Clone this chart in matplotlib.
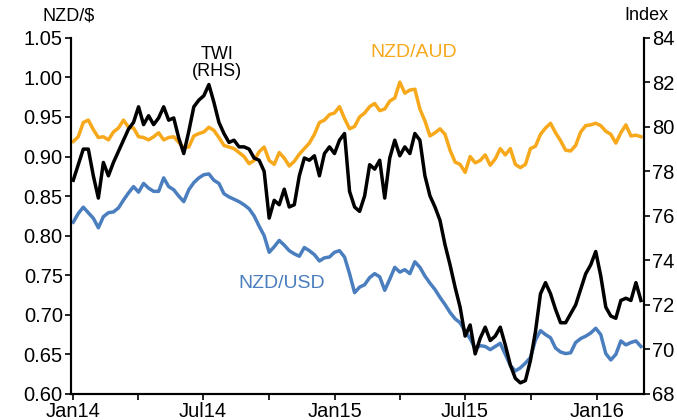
import numpy as np
import pandas as pd
import matplotlib
matplotlib.use('Agg')
import matplotlib.pyplot as plt
import matplotlib.dates as mdates

# weekly readings, starting first week of Jan 2014
start = '2014-01-01'

nzd_usd = [0.817, 0.828, 0.836, 0.829, 0.822, 0.810, 0.824, 0.829, 0.830, 0.835,
           0.845, 0.854, 0.862, 0.855, 0.866, 0.860, 0.856, 0.856, 0.873, 0.862,
           0.858, 0.850, 0.843, 0.858, 0.867, 0.873, 0.877, 0.878, 0.870, 0.866,
           0.853, 0.849, 0.846, 0.843, 0.839, 0.834, 0.825, 0.812, 0.800, 0.779,
           0.786, 0.794, 0.788, 0.781, 0.777, 0.774, 0.785, 0.781, 0.776, 0.768,
           0.772, 0.773, 0.779, 0.781, 0.773, 0.752, 0.728, 0.735, 0.738, 0.747,
           0.752, 0.748, 0.731, 0.745, 0.760, 0.754, 0.757, 0.752, 0.767, 0.760,
           0.749, 0.740, 0.732, 0.722, 0.713, 0.703, 0.695, 0.690, 0.679, 0.670,
           0.657, 0.661, 0.660, 0.656, 0.660, 0.664, 0.650, 0.636, 0.629, 0.633,
           0.639, 0.646, 0.668, 0.680, 0.675, 0.671, 0.658, 0.653, 0.651, 0.652,
           0.665, 0.670, 0.673, 0.677, 0.683, 0.675, 0.651, 0.643, 0.650, 0.667,
           0.662, 0.665, 0.667, 0.660]

nzd_aud = [0.919, 0.925, 0.943, 0.946, 0.934, 0.924, 0.925, 0.921, 0.931, 0.936,
           0.946, 0.937, 0.936, 0.925, 0.924, 0.921, 0.925, 0.930, 0.921, 0.924,
           0.925, 0.918, 0.911, 0.912, 0.926, 0.929, 0.931, 0.937, 0.933, 0.924,
           0.914, 0.912, 0.910, 0.905, 0.900, 0.891, 0.895, 0.906, 0.912, 0.895,
           0.890, 0.905, 0.898, 0.888, 0.894, 0.903, 0.910, 0.917, 0.928, 0.943,
           0.946, 0.953, 0.955, 0.963, 0.948, 0.935, 0.938, 0.950, 0.955, 0.963,
           0.967, 0.958, 0.960, 0.970, 0.974, 0.994, 0.980, 0.984, 0.985, 0.960,
           0.945, 0.926, 0.930, 0.935, 0.928, 0.908, 0.893, 0.890, 0.880, 0.900,
           0.892, 0.895, 0.902, 0.889, 0.897, 0.910, 0.902, 0.910, 0.890, 0.886,
           0.890, 0.910, 0.913, 0.928, 0.936, 0.942, 0.930, 0.920, 0.908, 0.907,
           0.914, 0.931, 0.939, 0.940, 0.942, 0.939, 0.932, 0.928, 0.917, 0.930,
           0.940, 0.926, 0.927, 0.925]

twi = [77.6, 78.3, 79.0, 79.0, 77.8, 76.8, 78.4, 77.8, 78.4, 78.9,
       79.4, 79.9, 80.2, 80.9, 80.1, 80.5, 80.1, 80.4, 80.9, 80.3,
       80.4, 79.5, 78.8, 79.8, 80.9, 81.2, 81.4, 81.9, 81.1, 80.2,
       79.7, 79.3, 79.4, 79.1, 79.1, 79.0, 78.6, 78.5, 78.0, 75.9,
       76.7, 76.5, 77.2, 76.4, 76.5, 77.8, 78.6, 78.5, 78.7, 77.8,
       78.8, 79.1, 78.8, 79.4, 79.7, 77.1, 76.4, 76.2, 76.9, 78.3,
       78.1, 78.5, 76.8, 78.6, 79.4, 78.7, 79.1, 78.8, 79.7, 79.4,
       77.8, 76.9, 76.4, 75.8, 74.7, 73.8, 72.8, 71.9, 70.6, 71.1,
       69.8, 70.5, 71.0, 70.4, 70.6, 71.0, 70.2, 69.3, 68.7, 68.5,
       68.6, 69.5, 70.8, 72.5, 73.0, 72.5, 71.8, 71.2, 71.2, 71.6,
       72.0, 72.7, 73.4, 73.8, 74.4, 73.3, 71.9, 71.5, 71.4, 72.2,
       72.3, 72.2, 73.0, 72.2]

left_ticks = [0.60, 0.65, 0.70, 0.75, 0.80, 0.85, 0.90, 0.95, 1.00, 1.05]
right_ticks = [68, 70, 72, 74, 76, 78, 80, 82, 84]

BLUE = '#4a7ebf'
ORANGE = '#f7a81b'

plt.rcParams['font.family'] = ['Liberation Sans', 'DejaVu Sans']

dates = pd.date_range(start, periods=len(nzd_usd), freq='7D')

fig = plt.figure(figsize=(6.77, 4.2), dpi=100)
ax = fig.add_axes([0.105, 0.062, 0.846, 0.848])
ax2 = ax.twinx()

ax.plot(dates, nzd_usd, color=BLUE, lw=2.5)
ax.plot(dates, nzd_aud, color=ORANGE, lw=2.5)
ax2.plot(dates, twi, color='black', lw=2.5)

ax.set_ylim(0.60, 1.05)
ax.set_yticks(left_ticks)
ax.set_yticklabels(['%.2f' % v for v in left_ticks])
ax2.set_ylim(68, 84)
ax2.set_yticks(right_ticks)

ax.set_xlim(pd.Timestamp('2013-12-29'), pd.Timestamp('2016-03-06'))
ax.xaxis.set_major_locator(mdates.MonthLocator(bymonth=[1, 7]))
ax.xaxis.set_minor_locator(mdates.MonthLocator(bymonth=[4, 10]))
ax.xaxis.set_major_formatter(mdates.DateFormatter('%b%y'))

for a in (ax, ax2):
    a.spines['top'].set_visible(False)
    for s in a.spines.values():
        s.set_linewidth(1.5)
    a.tick_params(labelsize=14.5, width=1.2, length=4, pad=2)
    a.tick_params(which='minor', width=1.2, length=4)

fig.text(0.063, 0.962, 'NZD/$', fontsize=13, va='center')
fig.text(0.988, 0.962, 'Index', fontsize=13, va='center', ha='right')

ax.text(0.255, 0.93, 'TWI\n(RHS)', transform=ax.transAxes, fontsize=13,
        ha='center', va='center', linespacing=1.0)
ax.text(0.599, 0.958, 'NZD/AUD', transform=ax.transAxes, fontsize=14,
        color=ORANGE, ha='center', va='center')
ax.text(0.368, 0.31, 'NZD/USD', transform=ax.transAxes, fontsize=14,
        color=BLUE, ha='center', va='center')

fig.savefig('out.png', dpi=100)
